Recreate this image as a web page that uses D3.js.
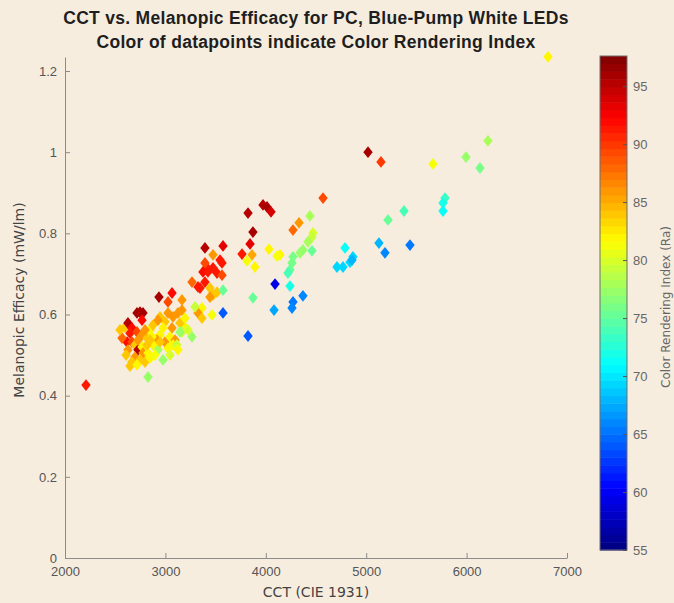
<!DOCTYPE html>
<html>
<head>
<meta charset="utf-8">
<script src="https://cdn.jsdelivr.net/npm/d3@7"></script>
<style>
  html, body { margin: 0; padding: 0; background: #f6eddf; }
  svg { display: block; }
</style>
</head>
<body>
<div id="chart"></div>
<script>
// CCT (K), melanopic efficacy (mW/lm) and CRI (Ra)
const cct = [2209, 6811, 6213, 5994, 6133, 5665, 5018, 5147, 5785, 5765, 5765, 5376, 5217, 5127, 5187, 5436,
  4789, 4868, 4839, 4769, 4709, 4859, 4570, 4331, 4271, 4440, 4470, 4460, 4420, 4370, 4341, 4460, 4271, 4261,
  4241, 4221, 4241, 4370, 4271, 4261, 4141, 3823, 3972, 4012, 4052, 3872, 3843, 3763, 3863, 3813, 3892, 4032,
  4112, 4092, 3872, 4082, 3823, 3574, 3394, 3474, 3574, 3544, 3564, 3414, 3394, 3374, 3424, 3474, 3514, 3564,
  3265, 3345, 3394, 3444, 3474, 3514, 3444, 3574, 3364, 3464, 3325, 3364, 3165, 3165, 3175, 3165, 3265, 2936,
  3066, 3026, 3325, 2747, 2717, 2777, 2767, 2598, 2627, 2667, 2647, 2618, 2717, 2767, 2817, 2667, 2697, 2727,
  2627, 2767, 2777, 2697, 2667, 2747, 2827, 2946, 2996, 3076, 3125, 3145, 2976, 3066, 2946, 2916, 2996, 3046,
  3096, 2876, 2926, 3026, 3076, 3115, 3145, 2976, 2827, 2847, 2867, 3295,
  2568, 2548, 2608, 2647, 2717, 2797, 2847, 2896, 2817, 2876, 2926, 3026, 3195, 3225, 3046, 3125, 2946, 2797,
  2727, 2847];
const efficacy = [0.426, 1.235, 1.028, 0.988, 0.961, 0.971, 1.000, 0.976, 0.887, 0.875, 0.855, 0.855, 0.833,
  0.776, 0.752, 0.771, 0.764, 0.742, 0.729, 0.717, 0.717, 0.734, 0.887, 0.826, 0.808, 0.843, 0.801, 0.791,
  0.779, 0.759, 0.752, 0.757, 0.742, 0.727, 0.710, 0.702, 0.670, 0.646, 0.631, 0.616, 0.747, 0.850, 0.870,
  0.865, 0.853, 0.803, 0.774, 0.749, 0.747, 0.732, 0.717, 0.761, 0.744, 0.675, 0.641, 0.611, 0.547, 0.604,
  0.764, 0.747, 0.769, 0.734, 0.727, 0.715, 0.727, 0.705, 0.705, 0.715, 0.702, 0.697, 0.680, 0.665, 0.680,
  0.665, 0.648, 0.655, 0.643, 0.660, 0.616, 0.599, 0.604, 0.591, 0.636, 0.611, 0.574, 0.557, 0.545, 0.643,
  0.653, 0.631, 0.668, 0.606, 0.604, 0.604, 0.586, 0.569, 0.579, 0.567, 0.554, 0.532, 0.557, 0.550, 0.542,
  0.532, 0.525, 0.513, 0.513, 0.520, 0.505, 0.495, 0.483, 0.488, 0.505, 0.594, 0.582, 0.594, 0.604, 0.579,
  0.567, 0.567, 0.550, 0.537, 0.532, 0.545, 0.537, 0.525, 0.513, 0.517, 0.525, 0.525, 0.557, 0.488, 0.446,
  0.562, 0.545, 0.619,
  0.542, 0.562, 0.500, 0.473, 0.476, 0.483, 0.493, 0.500, 0.525, 0.574, 0.586, 0.604, 0.591, 0.562, 0.500,
  0.513, 0.532, 0.562, 0.537, 0.537];
const cri = [91, 82, 78, 77, 76, 81, 96, 90, 73, 72, 71, 74, 75, 68, 66, 65, 71, 69, 69, 69, 69, 68, 89, 86,
  88, 78, 80, 79, 78, 77, 77, 75, 76, 76, 75, 74, 72, 66, 65, 66, 82, 95, 95, 96, 94, 96, 93, 91, 85, 81, 82,
  82, 81, 59, 75, 67, 64, 64, 95, 86, 93, 91, 91, 91, 89, 92, 91, 91, 91, 89, 88, 91, 91, 84, 84, 84, 86, 75,
  82, 81, 86, 84, 86, 86, 82, 79, 77, 96, 92, 89, 91, 96, 96, 96, 92, 84, 95, 92, 91, 92, 89, 86, 84, 89, 84,
  95, 86, 82, 86, 86, 84, 84, 82, 84, 84, 86, 86, 84, 82, 86, 82, 86, 86, 82, 86, 82, 78, 82, 82, 79, 77, 77,
  77, 82, 82, 79,
  88, 84, 84, 84, 82, 84, 82, 81, 84, 84, 86, 86, 82, 80, 80, 82, 84, 86, 86, 84];

const xTicks = [2000, 3000, 4000, 5000, 6000, 7000];
const yTicks = [0, 0.2, 0.4, 0.6, 0.8, 1, 1.2];
const cTicks = [55, 60, 65, 70, 75, 80, 85, 90, 95];
const criRange = [55, 97.6];

const data = cct.map((c, i) => ({ cct: c, eff: efficacy[i], cri: cri[i] }));

// MATLAB style jet colormap, 64 levels
function jet(t) {
  const c = v => Math.max(0, Math.min(1, v));
  const r = c(Math.min(4 * t - 1.5, -4 * t + 4.5));
  const g = c(Math.min(4 * t - 0.5, -4 * t + 3.5));
  const b = c(Math.min(4 * t + 0.5, -4 * t + 2.5));
  return d3.rgb(r * 255, g * 255, b * 255).formatHex();
}
const nLevels = 64;
const colorScale = d3.scaleQuantize()
  .domain(criRange)
  .range(d3.range(nLevels).map(i => jet((i + 0.5) / nLevels)));

const width = 674, height = 603;
const svg = d3.select("#chart").append("svg")
  .attr("width", width)
  .attr("height", height)
  .style("font-family", "'DejaVu Sans', sans-serif");

svg.append("rect").attr("width", width).attr("height", height).attr("fill", "#f6eddf");

const x = d3.scaleLinear().domain([2000, 7000]).range([65, 567]);
const y = d3.scaleLinear().domain([0, 1.2345]).range([558, 57]);

const axisColor = "#8c8c8c";
const labelColor = "#555";

// axes (ticks inside, MATLAB style)
const gx = svg.append("g")
  .attr("transform", `translate(0,${y(0)})`)
  .call(d3.axisBottom(x).tickValues(xTicks).tickSizeInner(-5).tickSizeOuter(0).tickPadding(9).tickFormat(d3.format("d")));
const gy = svg.append("g")
  .attr("transform", `translate(${x(2000)},0)`)
  .call(d3.axisLeft(y).tickValues(yTicks).tickSizeInner(-5).tickSizeOuter(0).tickPadding(8).tickFormat(d => d));
[gx, gy].forEach(g => {
  g.select(".domain").attr("stroke", axisColor);
  g.selectAll(".tick line").attr("stroke", axisColor);
  g.selectAll(".tick text").attr("fill", labelColor).style("font-size", "13px");
});

// markers: filled diamonds
const dw = 4.7, dh = 5.9;
const diamond = `M0,${-dh}L${dw},0L0,${dh}L${-dw},0Z`;
svg.append("g")
  .selectAll("path")
  .data(data)
  .join("path")
  .attr("d", diamond)
  .attr("transform", d => `translate(${x(d.cct)},${y(d.eff)})`)
  .attr("fill", d => colorScale(d.cri));

// colorbar
const cb = d3.scaleLinear().domain(criRange).range([550, 56]);
const cbX = 600, cbW = 27;
const levels = colorScale.range();
const step = (criRange[1] - criRange[0]) / nLevels;
svg.append("g")
  .selectAll("rect")
  .data(levels)
  .join("rect")
  .attr("x", cbX)
  .attr("width", cbW)
  .attr("y", (d, i) => cb(criRange[0] + (i + 1) * step))
  .attr("height", (d, i) => cb(criRange[0] + i * step) - cb(criRange[0] + (i + 1) * step) + 0.5)
  .attr("fill", d => d);
svg.append("rect")
  .attr("x", cbX).attr("y", cb(criRange[1]))
  .attr("width", cbW).attr("height", cb(criRange[0]) - cb(criRange[1]))
  .attr("fill", "none").attr("stroke", "#6f6f6f").attr("stroke-width", 1);
const gc = svg.append("g")
  .attr("transform", `translate(${cbX + cbW},0)`)
  .call(d3.axisRight(cb).tickValues(cTicks).tickSizeInner(-4).tickSizeOuter(0).tickPadding(6));
gc.select(".domain").remove();
gc.selectAll(".tick line").attr("stroke", "#555");
gc.selectAll(".tick text").attr("fill", "#666").style("font-size", "13px");

// titles and labels
const titleFont = "'Liberation Sans', Arial, sans-serif";
svg.append("text")
  .attr("x", 316).attr("y", 24)
  .attr("text-anchor", "middle")
  .style("font-family", titleFont)
  .style("font-size", "17.5px").style("font-weight", "bold").style("letter-spacing", "0.3px")
  .attr("fill", "#1e1e1e")
  .text("CCT vs. Melanopic Efficacy for PC, Blue-Pump White LEDs");
svg.append("text")
  .attr("x", 316).attr("y", 48)
  .attr("text-anchor", "middle")
  .style("font-family", titleFont)
  .style("font-size", "17.5px").style("font-weight", "bold").style("letter-spacing", "0.3px")
  .attr("fill", "#1e1e1e")
  .text("Color of datapoints indicate Color Rendering Index");

svg.append("text")
  .attr("x", 316).attr("y", 597)
  .attr("text-anchor", "middle")
  .style("font-size", "14px").attr("fill", "#444")
  .text("CCT (CIE 1931)");

svg.append("text")
  .attr("transform", "translate(24,300) rotate(-90)")
  .attr("text-anchor", "middle")
  .style("font-size", "14px").attr("fill", "#444")
  .text("Melanopic Efficacy (mW/lm)");

svg.append("text")
  .attr("transform", "translate(670,307) rotate(-90)")
  .attr("text-anchor", "middle")
  .style("font-size", "12px").attr("fill", "#666")
  .text("Color Rendering Index (Ra)");
</script>
</body>
</html>
